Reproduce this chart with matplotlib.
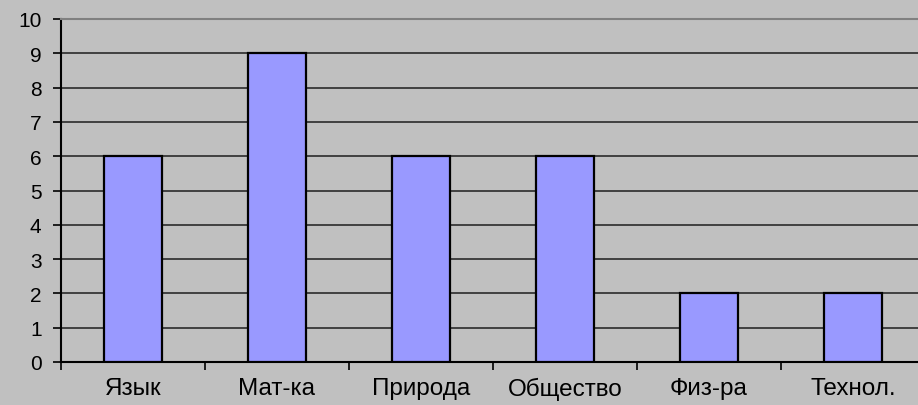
import numpy as np
from matplotlib import pyplot as plt

subjects = ["Язык", "Мат-ка", "Природа", "Общество", "Физ-ра", "Технол."]
scores = [6, 9, 6, 6, 2, 2]
yticks = list(range(0, 11))

plt.rcParams['font.family'] = ['Liberation Sans', 'DejaVu Sans']

fig = plt.figure(figsize=(9.18, 4.06), dpi=100, facecolor="#c0c0c0")
ax = fig.add_axes([61/918, 43/406, 1 - 61/918, 343/406])
ax.set_facecolor("#c0c0c0")

x = np.arange(len(subjects))
ax.bar(x, scores, width=0.4, color="#9999ff", edgecolor="black", linewidth=1.6, zorder=3)

ax.set_xlim(-0.5, len(subjects) - 0.5 - 7/144)
ax.set_ylim(0, 10)
ax.set_yticks(yticks)
ax.yaxis.grid(True, color="#2a2a2a", linewidth=1.2, zorder=0)
ax.set_axisbelow(True)

ax.set_xticks(x)
ax.set_xticklabels(subjects)
ax.set_xticks(np.arange(len(subjects)) - 0.5, minor=True)
ax.tick_params(axis="x", which="major", length=0, pad=11, labelsize=17.5)
ax.tick_params(axis="x", which="minor", length=6, width=1.2, direction="out")
ax.tick_params(axis="y", length=6, width=1.2, labelsize=15, pad=8)

ax.spines["right"].set_visible(False)
ax.spines["top"].set_color("#808080")
ax.spines["top"].set_linewidth(1.5)
ax.spines["left"].set_linewidth(1.5)
ax.spines["bottom"].set_linewidth(1.5)

fig.savefig("out.png", dpi=100, facecolor=fig.get_facecolor())
